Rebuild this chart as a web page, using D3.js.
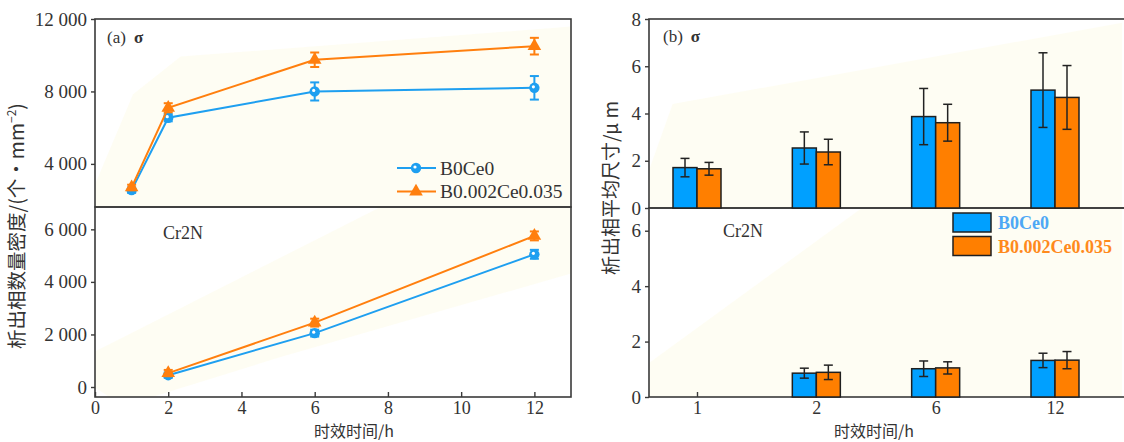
<!DOCTYPE html>
<html>
<head>
<meta charset="utf-8">
<script src="https://cdn.jsdelivr.net/npm/d3@7"></script>
<style>
  body { margin: 0; background: #fff; }
  svg { display: block; }
  text { font-family: "Liberation Serif", "Noto Sans CJK SC", serif; fill: #333; }
  .cjk { font-family: "Noto Sans CJK SC", sans-serif; }
</style>
</head>
<body>
<div id="chart"></div>
<script>
// aging time (h) and series
const hours = [1, 2, 6, 12];
const seriesNames = ["B0Ce0", "B0.002Ce0.035"];

// (a) number density, sigma phase
const sigmaDensB0 = [2550, 6550, 8000, 8200];
const sigmaDensB0Err = [150, 200, 500, 650];
const sigmaDensCe = [2700, 7100, 9750, 10500];
const sigmaDensCeErr = [150, 250, 400, 460];

// (a) number density, Cr2N
const crHours = [2, 6, 12];
const crDensB0 = [450, 2050, 5050];
const crDensB0Err = [100, 130, 170];
const crDensCe = [530, 2450, 5750];
const crDensCeErr = [120, 150, 170];

// (b) mean size, um
const sizeCats = ["1", "2", "6", "12"];
const sigmaSizeB0 = [1.71, 2.54, 3.87, 4.99];
const sigmaSizeB0Err = [0.39, 0.68, 1.19, 1.58];
const sigmaSizeCe = [1.66, 2.37, 3.61, 4.68];
const sigmaSizeCeErr = [0.27, 0.54, 0.78, 1.35];
const crSizeB0 = [null, 0.86, 1.02, 1.32];
const crSizeB0Err = [null, 0.18, 0.28, 0.26];
const crSizeCe = [null, 0.89, 1.05, 1.33];
const crSizeCeErr = [null, 0.26, 0.22, 0.31];

// ticks
const xTicksL = [0, 2, 4, 6, 8, 10, 12];
const yTicksLT = [4000, 8000, 12000];
const yTicksLB = [0, 2000, 4000, 6000];
const yTicksRT = [0, 2, 4, 6, 8];
const yTicksRB = [0, 2, 4, 6];

const lineColors = ["#1e9ff0", "#ff7f0e"];
const barColors = ["#00a0ff", "#ff7f00"];
const legendText = ["#4ea8f5", "#ff8a1c"];

const W = 1124, H = 442;
const svg = d3.select("#chart").append("svg").attr("width", W).attr("height", H);

const fmt = d => d3.format(",")(d).replace(",", " ");

// ---------- left panel ----------
const L = {x0: 95, x1: 571, top: 19, mid: 207, bot: 397};
const xL = d3.scaleLinear().domain([0, 13]).range([L.x0, L.x1]);
const yLT = d3.scaleLinear().domain([1620, 12000]).range([L.mid, L.top]);
const yLB = d3.scaleLinear().domain([-380, 6850]).range([L.bot, L.mid]);

// ---------- right panel ----------
const R = {x0: 649, x1: 1122, top: 19, mid: 208, bot: 397};
const xR = d3.scalePoint().domain(sizeCats).range([697, 1055]);
const yRT = d3.scaleLinear().domain([0, 8]).range([R.mid, R.top]);
const yRB = d3.scaleLinear().domain([0, 6.82]).range([R.bot, R.mid]);
const barW = 24;

// faint cream background shapes
function cream(x0, x1, y0, y1, pts) {
  const w = x1 - x0, h = y1 - y0;
  svg.append("polygon")
    .attr("points", pts.map(p => [x0 + p[0] * w, y0 + p[1] * h].join(",")).join(" "))
    .attr("fill", "#fdfcee").attr("opacity", 0.7);
}
cream(L.x0, L.x1, L.top, L.mid, [[0, 0.88], [0.08, 0.4], [0.18, 0.2], [1, 0.04], [1, 1], [0, 1]]);
cream(L.x0, L.x1, L.mid, L.bot, [[0, 0.76], [0.6, 0], [1, 0], [1, 0.35], [0.39, 0.79], [0.12, 1], [0.03, 1], [0, 0.95]]);
cream(R.x0, R.x1, R.top, R.mid, [[0, 0.8], [0.05, 0.45], [1, 0.02], [1, 1], [0, 1]]);
cream(R.x0, R.x1, R.mid, R.bot, [[0, 0.82], [0.45, 0], [1, 0], [1, 1], [0, 1]]);

// frames
function frame(x0, x1, y0, y1) {
  svg.append("rect").attr("x", x0).attr("y", y0).attr("width", x1 - x0).attr("height", y1 - y0)
    .attr("fill", "none").attr("stroke", "#3a3a3a").attr("stroke-width", 1.6);
}
frame(L.x0, L.x1, L.top, L.mid);
frame(L.x0, L.x1, L.mid, L.bot);
frame(R.x0, R.x1 + 4, R.top, R.mid);
frame(R.x0, R.x1 + 4, R.mid, R.bot);

function styleAxis(g, size) {
  g.select(".domain").remove();
  g.selectAll(".tick line").attr("stroke", "#3a3a3a").attr("stroke-width", 1.4);
  g.selectAll(".tick text").attr("font-size", size || 19).attr("fill", "#333")
    .style("font-family", "'Liberation Serif', serif");
}

svg.append("g").attr("transform", `translate(${L.x0},0)`)
  .call(d3.axisLeft(yLT).tickValues(yTicksLT).tickFormat(fmt).tickSize(4).tickPadding(4)).call(styleAxis);
svg.append("g").attr("transform", `translate(${L.x0},0)`)
  .call(d3.axisLeft(yLB).tickValues(yTicksLB).tickFormat(fmt).tickSize(4).tickPadding(4)).call(styleAxis);
svg.append("g").attr("transform", `translate(0,${L.bot})`)
  .call(d3.axisBottom(xL).tickValues(xTicksL).tickSize(-5).tickPadding(4)).call(styleAxis, 18);

svg.append("g").attr("transform", `translate(${R.x0},0)`)
  .call(d3.axisLeft(yRT).tickValues(yTicksRT).tickFormat(d3.format("d")).tickSize(4).tickPadding(4)).call(styleAxis);
svg.append("g").attr("transform", `translate(${R.x0},0)`)
  .call(d3.axisLeft(yRB).tickValues(yTicksRB).tickFormat(d3.format("d")).tickSize(4).tickPadding(4)).call(styleAxis);
svg.append("g").attr("transform", `translate(0,${R.bot})`)
  .call(d3.axisBottom(xR).tickSize(-5).tickPadding(4)).call(styleAxis, 18);

// ---------- line series ----------
function marker(g, kind, color, x, y) {
  if (kind === 0) {
    g.append("circle").attr("cx", x).attr("cy", y).attr("r", 5.2).attr("fill", color);
    g.append("circle").attr("cx", x - 1).attr("cy", y - 1).attr("r", 1.6).attr("fill", "#fff");
  } else {
    g.append("path").attr("d", d3.symbol(d3.symbolTriangle, 80)())
      .attr("transform", `translate(${x},${y})`).attr("fill", color);
  }
}

function lineSeries(xs, vals, errs, y, kind) {
  const color = lineColors[kind];
  const g = svg.append("g");
  const pts = xs.map((h, i) => ({h, v: vals[i], e: errs[i]}));
  g.append("path").datum(pts)
    .attr("d", d3.line().x(d => xL(d.h)).y(d => y(d.v)))
    .attr("fill", "none").attr("stroke", color).attr("stroke-width", 2);
  pts.forEach(d => {
    const cx = xL(d.h);
    g.append("line").attr("x1", cx).attr("x2", cx).attr("y1", y(d.v - d.e)).attr("y2", y(d.v + d.e))
      .attr("stroke", color).attr("stroke-width", 2);
    [d.v - d.e, d.v + d.e].forEach(v => g.append("line")
      .attr("x1", cx - 4.5).attr("x2", cx + 4.5).attr("y1", y(v)).attr("y2", y(v))
      .attr("stroke", color).attr("stroke-width", 2));
    marker(g, kind, color, cx, y(d.v));
  });
}
lineSeries(hours, sigmaDensB0, sigmaDensB0Err, yLT, 0);
lineSeries(hours, sigmaDensCe, sigmaDensCeErr, yLT, 1);
lineSeries(crHours, crDensB0, crDensB0Err, yLB, 0);
lineSeries(crHours, crDensCe, crDensCeErr, yLB, 1);

// ---------- bar series ----------
function barSeries(vals, errs, y, k) {
  const g = svg.append("g");
  sizeCats.forEach((c, i) => {
    if (vals[i] == null) return;
    const x = xR(c) + (k === 0 ? -barW : 0);
    g.append("rect").attr("x", x).attr("y", y(vals[i])).attr("width", barW)
      .attr("height", y(0) - y(vals[i])).attr("fill", barColors[k])
      .attr("stroke", "#1f1f1f").attr("stroke-width", 1.5);
    const cx = x + barW / 2;
    g.append("line").attr("x1", cx).attr("x2", cx)
      .attr("y1", y(vals[i] - errs[i])).attr("y2", y(vals[i] + errs[i]))
      .attr("stroke", "#222").attr("stroke-width", 1.5);
    [vals[i] - errs[i], vals[i] + errs[i]].forEach(v => g.append("line")
      .attr("x1", cx - 4.5).attr("x2", cx + 4.5).attr("y1", y(v)).attr("y2", y(v))
      .attr("stroke", "#222").attr("stroke-width", 1.5));
  });
}
barSeries(sigmaSizeB0, sigmaSizeB0Err, yRT, 0);
barSeries(sigmaSizeCe, sigmaSizeCeErr, yRT, 1);
barSeries(crSizeB0, crSizeB0Err, yRB, 0);
barSeries(crSizeCe, crSizeCeErr, yRB, 1);

// ---------- annotations ----------
svg.append("text").attr("x", 107).attr("y", 43).attr("font-size", 17).text("(a)")
  .append("tspan").attr("dx", 8).attr("font-weight", "bold").text("σ");
svg.append("text").attr("x", 663).attr("y", 42).attr("font-size", 17).text("(b)")
  .append("tspan").attr("dx", 8).attr("font-weight", "bold").text("σ");
svg.append("text").attr("x", 163).attr("y", 239).attr("font-size", 18).text("Cr2N");
svg.append("text").attr("x", 723).attr("y", 237).attr("font-size", 18).text("Cr2N");

// left legend
seriesNames.forEach((n, i) => {
  const yy = 168 + i * 23.5;
  svg.append("line").attr("x1", 397).attr("x2", 436).attr("y1", yy).attr("y2", yy)
    .attr("stroke", lineColors[i]).attr("stroke-width", 2);
  marker(svg, i, lineColors[i], 416, yy);
  svg.append("text").attr("x", 440).attr("y", yy + 6.5).attr("font-size", 19.5).text(n);
});

// right legend
seriesNames.forEach((n, i) => {
  const yy = 213 + i * 23.5;
  svg.append("rect").attr("x", 953).attr("y", yy).attr("width", 38).attr("height", 19)
    .attr("fill", barColors[i]).attr("stroke", "#1f1f1f").attr("stroke-width", 1.5);
  svg.append("text").attr("x", 998).attr("y", yy + 16).attr("font-size", 18)
    .attr("font-weight", "bold").style("fill", legendText[i]).text(n);
});

// axis titles
svg.append("text").attr("class", "cjk").attr("x", 354).attr("y", 437)
  .attr("text-anchor", "middle").attr("font-size", 16).text("时效时间/h");
svg.append("text").attr("class", "cjk").attr("x", 874).attr("y", 437)
  .attr("text-anchor", "middle").attr("font-size", 16).text("时效时间/h");

const yl = svg.append("text").attr("class", "cjk").attr("text-anchor", "middle")
  .attr("transform", "translate(24,226) rotate(-90)").attr("font-size", 19.5);
yl.append("tspan").text("析出相数量密度/(个·mm");
yl.append("tspan").attr("dy", -8).attr("font-size", 12).text("−2");
yl.append("tspan").attr("dy", 8).text(")");

svg.append("text").attr("class", "cjk").attr("text-anchor", "middle")
  .attr("transform", "translate(618,188) rotate(-90)").attr("font-size", 19)
  .text("析出相平均尺寸/μ m");
</script>
</body>
</html>
